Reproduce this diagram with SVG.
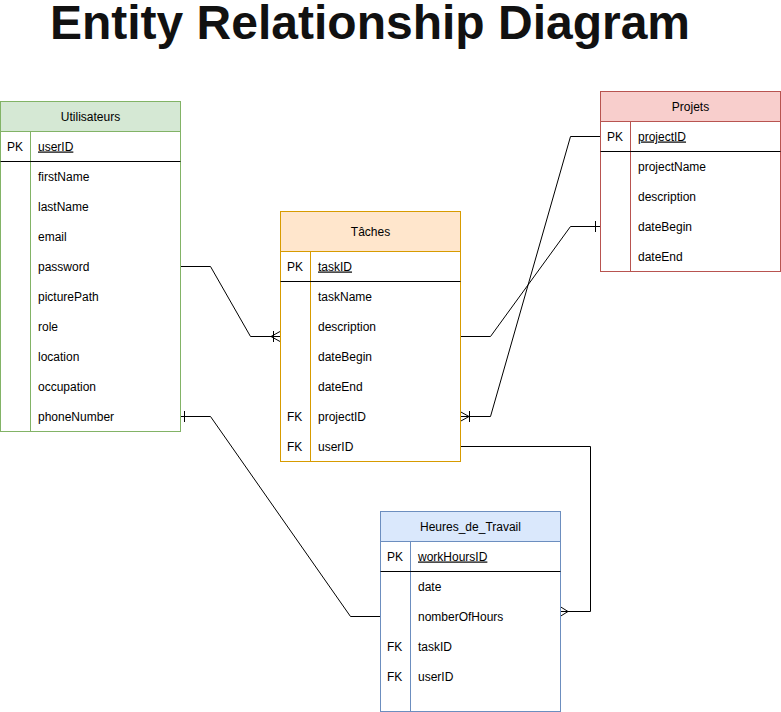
<svg xmlns="http://www.w3.org/2000/svg" width="781" height="712" viewBox="0 0 781 712">
<style>
text{font-family:"Liberation Sans",Arial,sans-serif;font-size:12px;fill:#000}
.title{font-size:48px;font-weight:bold;fill:#111}
.h{text-anchor:middle}
.pk{text-decoration:underline}
.sep{stroke:#000;stroke-width:1}
.c{fill:none;stroke:#000;stroke-width:1}
.g{stroke:#82b366}
.o{stroke:#d79b00}
.r{stroke:#b85450}
.b{stroke:#6c8ebf}
</style>
<rect width="781" height="712" fill="#fff"/>
<text class="title" x="370" y="39" text-anchor="middle">Entity Relationship Diagram</text>

<g id="connectors">
<path class="c" d="M180.5 266.5H210.5L250.5 336.5H280"/>
<path class="c" d="M280 331.5L271 336.5L280 341.5M273.5 331V342"/>
<path class="c" d="M600 136.5H570.5L490.5 416.5H460"/>
<path class="c" d="M460 411.5L469 416.5L460 421.5M469.5 411V422"/>
<path class="c" d="M600 226.5H570.5L490.5 336.5H460"/>
<path class="c" d="M595.5 221V232"/>
<path class="c" d="M460 446.5H590.5V611.5H560"/>
<path class="c" d="M560 606.5L568 611.5L560 616.5"/>
<path class="c" d="M180 416.5H210.5L350.5 616.5H380"/>
<path class="c" d="M184.5 411V422"/>
</g>

<g id="Utilisateurs">
<rect x="0.5" y="101.5" width="180" height="330" fill="#fff" class="g"/>
<rect x="0.5" y="101.5" width="180" height="30" fill="#d5e8d4" class="g"/>
<line x1="30.5" y1="131.5" x2="30.5" y2="431.5" class="g"/>
<line x1="0.5" y1="161.5" x2="180.5" y2="161.5" class="sep"/>
<text class="h" x="90.5" y="120.5">Utilisateurs</text>
<text x="7" y="150.5">PK</text>
<text class="pk" x="38" y="150.5">userID</text>
<text x="38" y="180.5">firstName</text>
<text x="38" y="210.5">lastName</text>
<text x="38" y="240.5">email</text>
<text x="38" y="270.5">password</text>
<text x="38" y="300.5">picturePath</text>
<text x="38" y="330.5">role</text>
<text x="38" y="360.5">location</text>
<text x="38" y="390.5">occupation</text>
<text x="38" y="420.5">phoneNumber</text>
</g>

<g id="Taches">
<rect x="280.5" y="211.5" width="180" height="250" fill="#fff" class="o"/>
<rect x="280.5" y="211.5" width="180" height="40" fill="#ffe6cc" class="o"/>
<line x1="310.5" y1="251.5" x2="310.5" y2="461.5" class="o"/>
<line x1="280.5" y1="281.5" x2="460.5" y2="281.5" class="sep"/>
<text class="h" x="370.5" y="235.5">Tâches</text>
<text x="287" y="270.5">PK</text>
<text class="pk" x="318" y="270.5">taskID</text>
<text x="318" y="300.5">taskName</text>
<text x="318" y="330.5">description</text>
<text x="318" y="360.5">dateBegin</text>
<text x="318" y="390.5">dateEnd</text>
<text x="287" y="420.5">FK</text>
<text x="318" y="420.5">projectID</text>
<text x="287" y="450.5">FK</text>
<text x="318" y="450.5">userID</text>
</g>

<g id="Projets">
<rect x="600.5" y="91.5" width="180" height="180" fill="#fff" class="r"/>
<rect x="600.5" y="91.5" width="180" height="30" fill="#f8cecc" class="r"/>
<line x1="630.5" y1="121.5" x2="630.5" y2="271.5" class="r"/>
<line x1="600.5" y1="151.5" x2="780.5" y2="151.5" class="sep"/>
<text class="h" x="690.5" y="110.5">Projets</text>
<text x="607" y="140.5">PK</text>
<text class="pk" x="638" y="140.5">projectID</text>
<text x="638" y="170.5">projectName</text>
<text x="638" y="200.5">description</text>
<text x="638" y="230.5">dateBegin</text>
<text x="638" y="260.5">dateEnd</text>
</g>

<g id="Heures_de_Travail">
<rect x="380.5" y="511.5" width="180" height="200" fill="#fff" class="b"/>
<rect x="380.5" y="511.5" width="180" height="30" fill="#dae8fc" class="b"/>
<line x1="410.5" y1="541.5" x2="410.5" y2="711.5" class="b"/>
<line x1="380.5" y1="571.5" x2="560.5" y2="571.5" class="sep"/>
<text class="h" x="470.5" y="530.5">Heures_de_Travail</text>
<text x="387" y="560.5">PK</text>
<text class="pk" x="418" y="560.5">workHoursID</text>
<text x="418" y="590.5">date</text>
<text x="418" y="620.5">nomberOfHours</text>
<text x="387" y="650.5">FK</text>
<text x="418" y="650.5">taskID</text>
<text x="387" y="680.5">FK</text>
<text x="418" y="680.5">userID</text>
</g>
</svg>
